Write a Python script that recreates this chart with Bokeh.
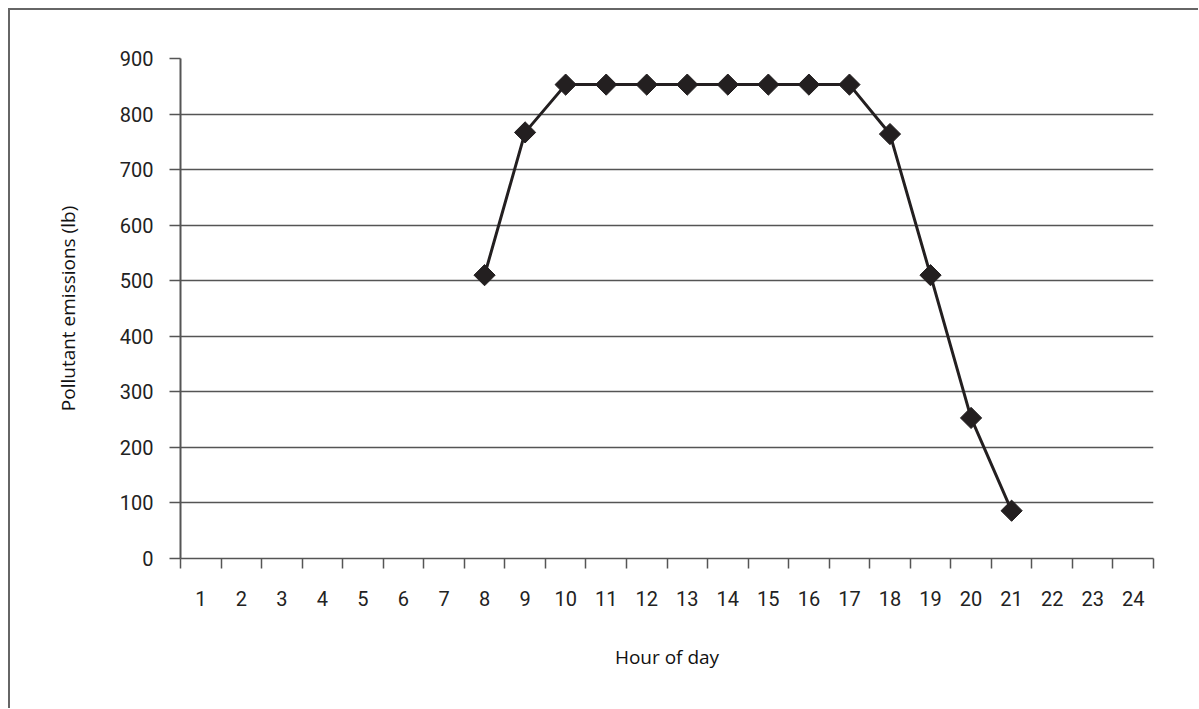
import math
from bokeh.plotting import figure
from bokeh.models import Range1d, FixedTicker, ColumnDataSource
from bokeh.embed import file_html
from bokeh.resources import INLINE

# ---- data ----
hours = [str(h) for h in range(1, 25)]
x_hours = [8, 9, 10, 11, 12, 13, 14, 15, 16, 17, 18, 19, 20, 21]
emissions = [510, 767, 853, 853, 853, 853, 853, 853, 853, 853, 764, 510, 253, 86]
y_ticks = [0, 100, 200, 300, 400, 500, 600, 700, 800, 900]

x_title = "Hour of day"
y_title = "Pollutant emissions (lb)"

TICK_FONT = "Roboto"
TITLE_FONT = "Open Sans"
GRID = "#555555"
INK = "#231f20"

src = ColumnDataSource(dict(x=x_hours, y=emissions))

p = figure(
    frame_width=973, frame_height=500,
    min_border_left=170, min_border_top=48, min_border_right=45, min_border_bottom=150,
    x_range=Range1d(0.5, 24.5), y_range=Range1d(0, 900),
    output_backend="svg", toolbar_location=None, tools="",
)
p.styles = {"border-left": "2px solid #666666", "border-top": "2px solid #666666",
            "margin-left": "8px", "margin-top": "8px"}
p.outline_line_color = None
p.background_fill_color = "white"
p.border_fill_color = "white"

# grid
p.xgrid.visible = False
p.ygrid.ticker = FixedTicker(ticks=y_ticks)
p.ygrid.grid_line_color = GRID
p.ygrid.grid_line_width = 1.4

# x axis
xa = p.xaxis[0]
xa.ticker = FixedTicker(ticks=list(range(1, 25)), minor_ticks=[h + 0.5 for h in range(0, 25)])
xa.major_label_overrides = {i + 1: lab for i, lab in enumerate(hours)}
xa.major_tick_out = 0
xa.major_tick_in = 0
xa.minor_tick_out = 10
xa.minor_tick_in = 0
xa.minor_tick_line_color = GRID
xa.minor_tick_line_width = 1.5
xa.axis_line_color = GRID
xa.axis_line_width = 1.6
xa.major_label_text_font = TICK_FONT
xa.major_label_text_font_size = "20px"
xa.major_label_text_color = "#222222"
xa.major_label_standoff = 22
xa.axis_label = x_title
xa.axis_label_text_font = TITLE_FONT
xa.axis_label_text_font_size = "19px"
xa.axis_label_text_font_style = "normal"
xa.axis_label_text_color = "#111111"
xa.axis_label_standoff = 35

# y axis
ya = p.yaxis[0]
ya.ticker = FixedTicker(ticks=y_ticks)
ya.major_tick_out = 11
ya.major_tick_in = 0
ya.minor_tick_out = 0
ya.minor_tick_in = 0
ya.major_tick_line_color = GRID
ya.major_tick_line_width = 1.4
ya.axis_line_color = GRID
ya.axis_line_width = 2
ya.major_label_text_font = TICK_FONT
ya.major_label_text_font_size = "20px"
ya.major_label_text_color = "#222222"
ya.major_label_standoff = 16
ya.axis_label = y_title
ya.axis_label_text_font = TITLE_FONT
ya.axis_label_text_font_size = "19px"
ya.axis_label_text_font_style = "normal"
ya.axis_label_text_color = "#111111"
ya.axis_label_standoff = 36

# series
p.line("x", "y", source=src, line_color=INK, line_width=3)
p.scatter("x", "y", source=src, marker="square", size=15, angle=math.pi / 4,
          fill_color=INK, line_color=INK)

open("out.html", "w").write(file_html(p, INLINE))
